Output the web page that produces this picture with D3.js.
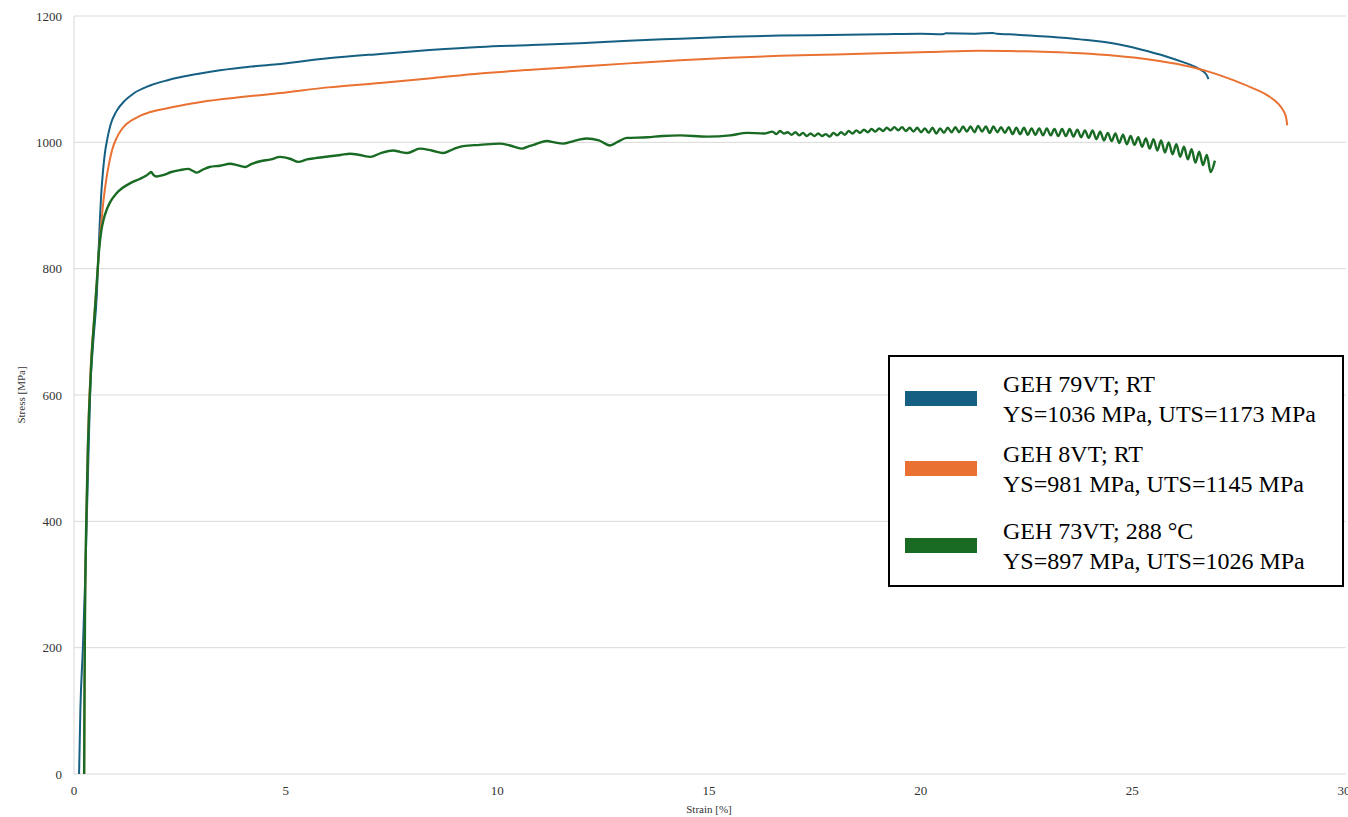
<!DOCTYPE html>
<html>
<head>
<meta charset="utf-8">
<script src="https://cdn.jsdelivr.net/npm/d3@7"></script>
<style>
  body { margin: 0; background: #fff; }
  text { font-family: "Times New Roman", "Liberation Serif", serif; }
</style>
</head>
<body>
<div id="chart"></div>
<script>
// Tick values
const xTicks = [0, 5, 10, 15, 20, 25, 30];
const yTicks = [0, 200, 400, 600, 800, 1000, 1200];

// Series names (two lines each) and colours
const seriesLabels = [
    ["GEH 79VT; RT", "YS=1036 MPa, UTS=1173 MPa"],
    ["GEH 8VT; RT", "YS=981 MPa, UTS=1145 MPa"],
    ["GEH 73VT; 288 °C", "YS=897 MPa, UTS=1026 MPa"]
];
const seriesColors = ["#156082", "#E97132", "#196B24"];

// [strain %, stress MPa]
const geh79 = [
    [0.12, 0], [0.15, 100], [0.21, 200], [0.26, 300], [0.3, 400], [0.34, 500], [0.38, 600],
    [0.45, 680], [0.54, 760], [0.6, 860], [0.65, 925], [0.69, 958], [0.73, 983], [0.78, 1003],
    [0.86, 1027], [1.0, 1049], [1.2, 1066], [1.4, 1077], [1.8, 1090], [2.19, 1098], [2.5, 1103],
    [2.98, 1109], [3.45, 1114], [4.2, 1120], [4.87, 1124], [6.0, 1133], [7.23, 1140], [8.4, 1146],
    [9.59, 1151], [10.8, 1154], [11.95, 1157], [13.1, 1161], [14.32, 1164], [15.5, 1167],
    [16.68, 1169], [17.86, 1170], [19.04, 1171], [20.0, 1172], [20.5, 1171], [20.6, 1172.5],
    [21.3, 1172], [21.7, 1173], [21.8, 1172], [22.1, 1171], [22.58, 1169], [23.06, 1167],
    [23.77, 1163], [24.6, 1156], [25.2, 1147], [25.8, 1136], [26.2, 1127], [26.5, 1119],
    [26.68, 1112], [26.76, 1106], [26.8, 1100]
];

const geh8 = [
    [0.24, 0], [0.25, 150], [0.26, 250], [0.29, 400], [0.33, 530], [0.4, 650], [0.48, 725],
    [0.55, 790], [0.6, 838], [0.65, 876], [0.7, 910], [0.76, 940], [0.83, 967], [0.9, 988],
    [1.0, 1006], [1.12, 1020], [1.24, 1029], [1.5, 1040], [1.8, 1048], [2.2, 1054], [2.5, 1058],
    [3.0, 1064], [4.0, 1072], [4.87, 1078], [6.0, 1087], [7.23, 1094], [8.5, 1102],
    [9.59, 1109], [10.8, 1115], [11.95, 1120], [13.1, 1125], [14.32, 1130], [15.5, 1134],
    [16.68, 1137], [18.0, 1139], [19.04, 1141], [20.2, 1143], [21.4, 1145], [22.5, 1144],
    [23.06, 1143], [23.77, 1141], [24.6, 1137], [25.4, 1131], [26.2, 1122], [26.8, 1112],
    [27.4, 1098], [27.8, 1087], [28.2, 1074], [28.45, 1061], [28.56, 1051], [28.63, 1040],
    [28.66, 1027]
];

const geh73 = [
    [0.24, 0], [0.25, 150], [0.26, 250], [0.29, 400], [0.33, 520], [0.4, 640], [0.48, 722],
    [0.54, 780], [0.59, 828], [0.64, 858], [0.7, 878], [0.77, 893], [0.85, 905], [1.0, 919],
    [1.15, 928], [1.32, 935], [1.55, 942], [1.7, 947], [1.78, 951], [1.82, 953], [1.88, 948],
    [1.95, 946], [2.1, 948], [2.3, 953], [2.5, 956], [2.7, 958], [2.8, 955], [2.9, 952],
    [3.05, 957], [3.2, 961], [3.45, 963], [3.69, 966], [3.85, 964], [4.04, 961], [4.2, 966],
    [4.4, 970], [4.65, 973], [4.87, 977], [5.1, 974], [5.3, 969], [5.5, 973], [5.7, 975],
    [6.05, 978], [6.3, 980], [6.52, 982], [6.75, 980], [7.0, 977], [7.25, 983], [7.54, 987],
    [7.7, 985], [7.87, 983], [8.17, 990], [8.45, 987], [8.72, 983], [8.95, 989], [9.19, 994],
    [9.59, 996], [10.06, 998], [10.3, 995], [10.58, 990], [10.75, 994], [10.9, 997],
    [11.17, 1002], [11.35, 1000], [11.55, 998], [11.8, 1002], [12.1, 1006], [12.4, 1003],
    [12.66, 995], [12.85, 1001], [13.06, 1007], [13.54, 1008], [13.9, 1010], [14.32, 1011],
    [14.95, 1009], [15.5, 1011], [15.9, 1015], [16.3, 1014],
    [16.50, 1017], [16.59, 1013], [16.68, 1018], [16.77, 1014], [16.86, 1016], [16.95, 1012],
    [17.04, 1016], [17.13, 1011], [17.22, 1015], [17.31, 1010], [17.40, 1014], [17.49, 1010],
    [17.58, 1014], [17.67, 1010], [17.76, 1013], [17.85, 1009], [17.94, 1015], [18.03, 1011],
    [18.12, 1016], [18.21, 1012], [18.30, 1018], [18.39, 1014], [18.48, 1019], [18.57, 1015],
    [18.66, 1020], [18.75, 1016], [18.84, 1021], [18.93, 1017], [19.02, 1022], [19.11, 1018],
    [19.20, 1023], [19.29, 1019], [19.38, 1024], [19.47, 1019], [19.56, 1024], [19.65, 1018],
    [19.74, 1023], [19.83, 1017], [19.92, 1023], [20.01, 1016], [20.10, 1022], [20.19, 1015],
    [20.28, 1023], [20.37, 1014], [20.46, 1022], [20.55, 1015], [20.64, 1023], [20.73, 1016],
    [20.82, 1024], [20.91, 1016], [21.00, 1025], [21.09, 1017], [21.18, 1025], [21.27, 1016],
    [21.36, 1026], [21.45, 1017], [21.54, 1025], [21.63, 1015], [21.72, 1025], [21.81, 1016],
    [21.90, 1024], [21.99, 1015], [22.08, 1024], [22.17, 1013], [22.26, 1023], [22.35, 1013],
    [22.44, 1023], [22.53, 1012], [22.62, 1022], [22.71, 1012], [22.80, 1022], [22.89, 1011],
    [22.98, 1022], [23.07, 1011], [23.16, 1021], [23.25, 1010], [23.34, 1021], [23.43, 1010],
    [23.52, 1021], [23.61, 1009], [23.70, 1020], [23.79, 1008], [23.88, 1019], [23.97, 1007],
    [24.06, 1019], [24.15, 1005], [24.24, 1017], [24.33, 1003], [24.42, 1015], [24.51, 1002],
    [24.60, 1014], [24.69, 999], [24.78, 1012], [24.87, 997], [24.96, 1010], [25.05, 996],
    [25.14, 1008], [25.23, 993], [25.32, 1006], [25.41, 990], [25.50, 1005], [25.59, 987],
    [25.68, 1003], [25.77, 984], [25.86, 1000], [25.95, 981], [26.04, 997], [26.13, 977],
    [26.22, 993], [26.31, 973], [26.40, 989], [26.49, 968], [26.58, 985], [26.67, 964],
    [26.76, 980], [26.85, 953], [26.95, 971]
];

const width = 1348, height = 817;
const plot = { left: 74, right: 1344, top: 16, bottom: 774 };

const svg = d3.select("#chart").append("svg")
    .attr("width", width)
    .attr("height", height);

const x = d3.scaleLinear().domain([0, 30]).range([plot.left, plot.right]);
const y = d3.scaleLinear().domain([0, 1200]).range([plot.bottom, plot.top]);

// horizontal gridlines
svg.append("g")
    .selectAll("line")
    .data(yTicks)
    .join("line")
    .attr("x1", plot.left)
    .attr("x2", plot.right + 2)
    .attr("y1", d => y(d))
    .attr("y2", d => y(d))
    .attr("stroke", "#d9d9d9")
    .attr("stroke-width", 1);

// left border line
svg.append("line")
    .attr("x1", plot.left).attr("x2", plot.left)
    .attr("y1", plot.top).attr("y2", plot.bottom)
    .attr("stroke", "#d9d9d9");

// y tick labels
svg.append("g")
    .selectAll("text")
    .data(yTicks)
    .join("text")
    .attr("x", plot.left - 12)
    .attr("y", d => y(d) + 4.5)
    .attr("text-anchor", "end")
    .attr("font-size", "13px")
    .attr("fill", "#333")
    .text(d => d);

// x tick labels (the last one runs off the right edge, as in the original)
svg.append("g")
    .selectAll("text")
    .data(xTicks)
    .join("text")
    .attr("x", d => x(d))
    .attr("y", plot.bottom + 21)
    .attr("text-anchor", "middle")
    .attr("font-size", "13px")
    .attr("fill", "#333")
    .text(d => d);

// axis titles
svg.append("text")
    .attr("transform", `translate(25, ${(plot.top + plot.bottom) / 2}) rotate(-90)`)
    .attr("text-anchor", "middle")
    .attr("font-size", "11px")
    .attr("fill", "#333")
    .text("Stress [MPa]");

svg.append("text")
    .attr("x", (plot.left + plot.right) / 2)
    .attr("y", 813)
    .attr("text-anchor", "middle")
    .attr("font-size", "11px")
    .attr("fill", "#333")
    .text("Strain [%]");

// curves
const line = d3.line()
    .x(d => x(d[0]))
    .y(d => y(d[1]))
    .curve(d3.curveMonotoneX);

const seriesData = [geh79, geh8, geh73];

seriesData.forEach((data, i) => {
    svg.append("path")
        .datum(data)
        .attr("fill", "none")
        .attr("stroke", seriesColors[i])
        .attr("stroke-width", i === 2 ? 2.4 : 2)
        .attr("stroke-linejoin", "round")
        .attr("d", line);
});

// legend
const legend = svg.append("g").attr("transform", "translate(889, 356)");

legend.append("rect")
    .attr("width", 454)
    .attr("height", 230)
    .attr("fill", "#fff")
    .attr("stroke", "#000")
    .attr("stroke-width", 2);

const entryTop = [35, 105, 182];

seriesLabels.forEach((lines, i) => {
    legend.append("rect")
        .attr("x", 16)
        .attr("y", entryTop[i])
        .attr("width", 72)
        .attr("height", 15)
        .attr("fill", seriesColors[i]);

    lines.forEach((line, j) => {
        legend.append("text")
            .attr("x", 114)
            .attr("y", entryTop[i] + 1 + j * 29.5)
            .attr("font-size", "24px")
            .attr("fill", "#000")
            .text(line);
    });
});
</script>
</body>
</html>
